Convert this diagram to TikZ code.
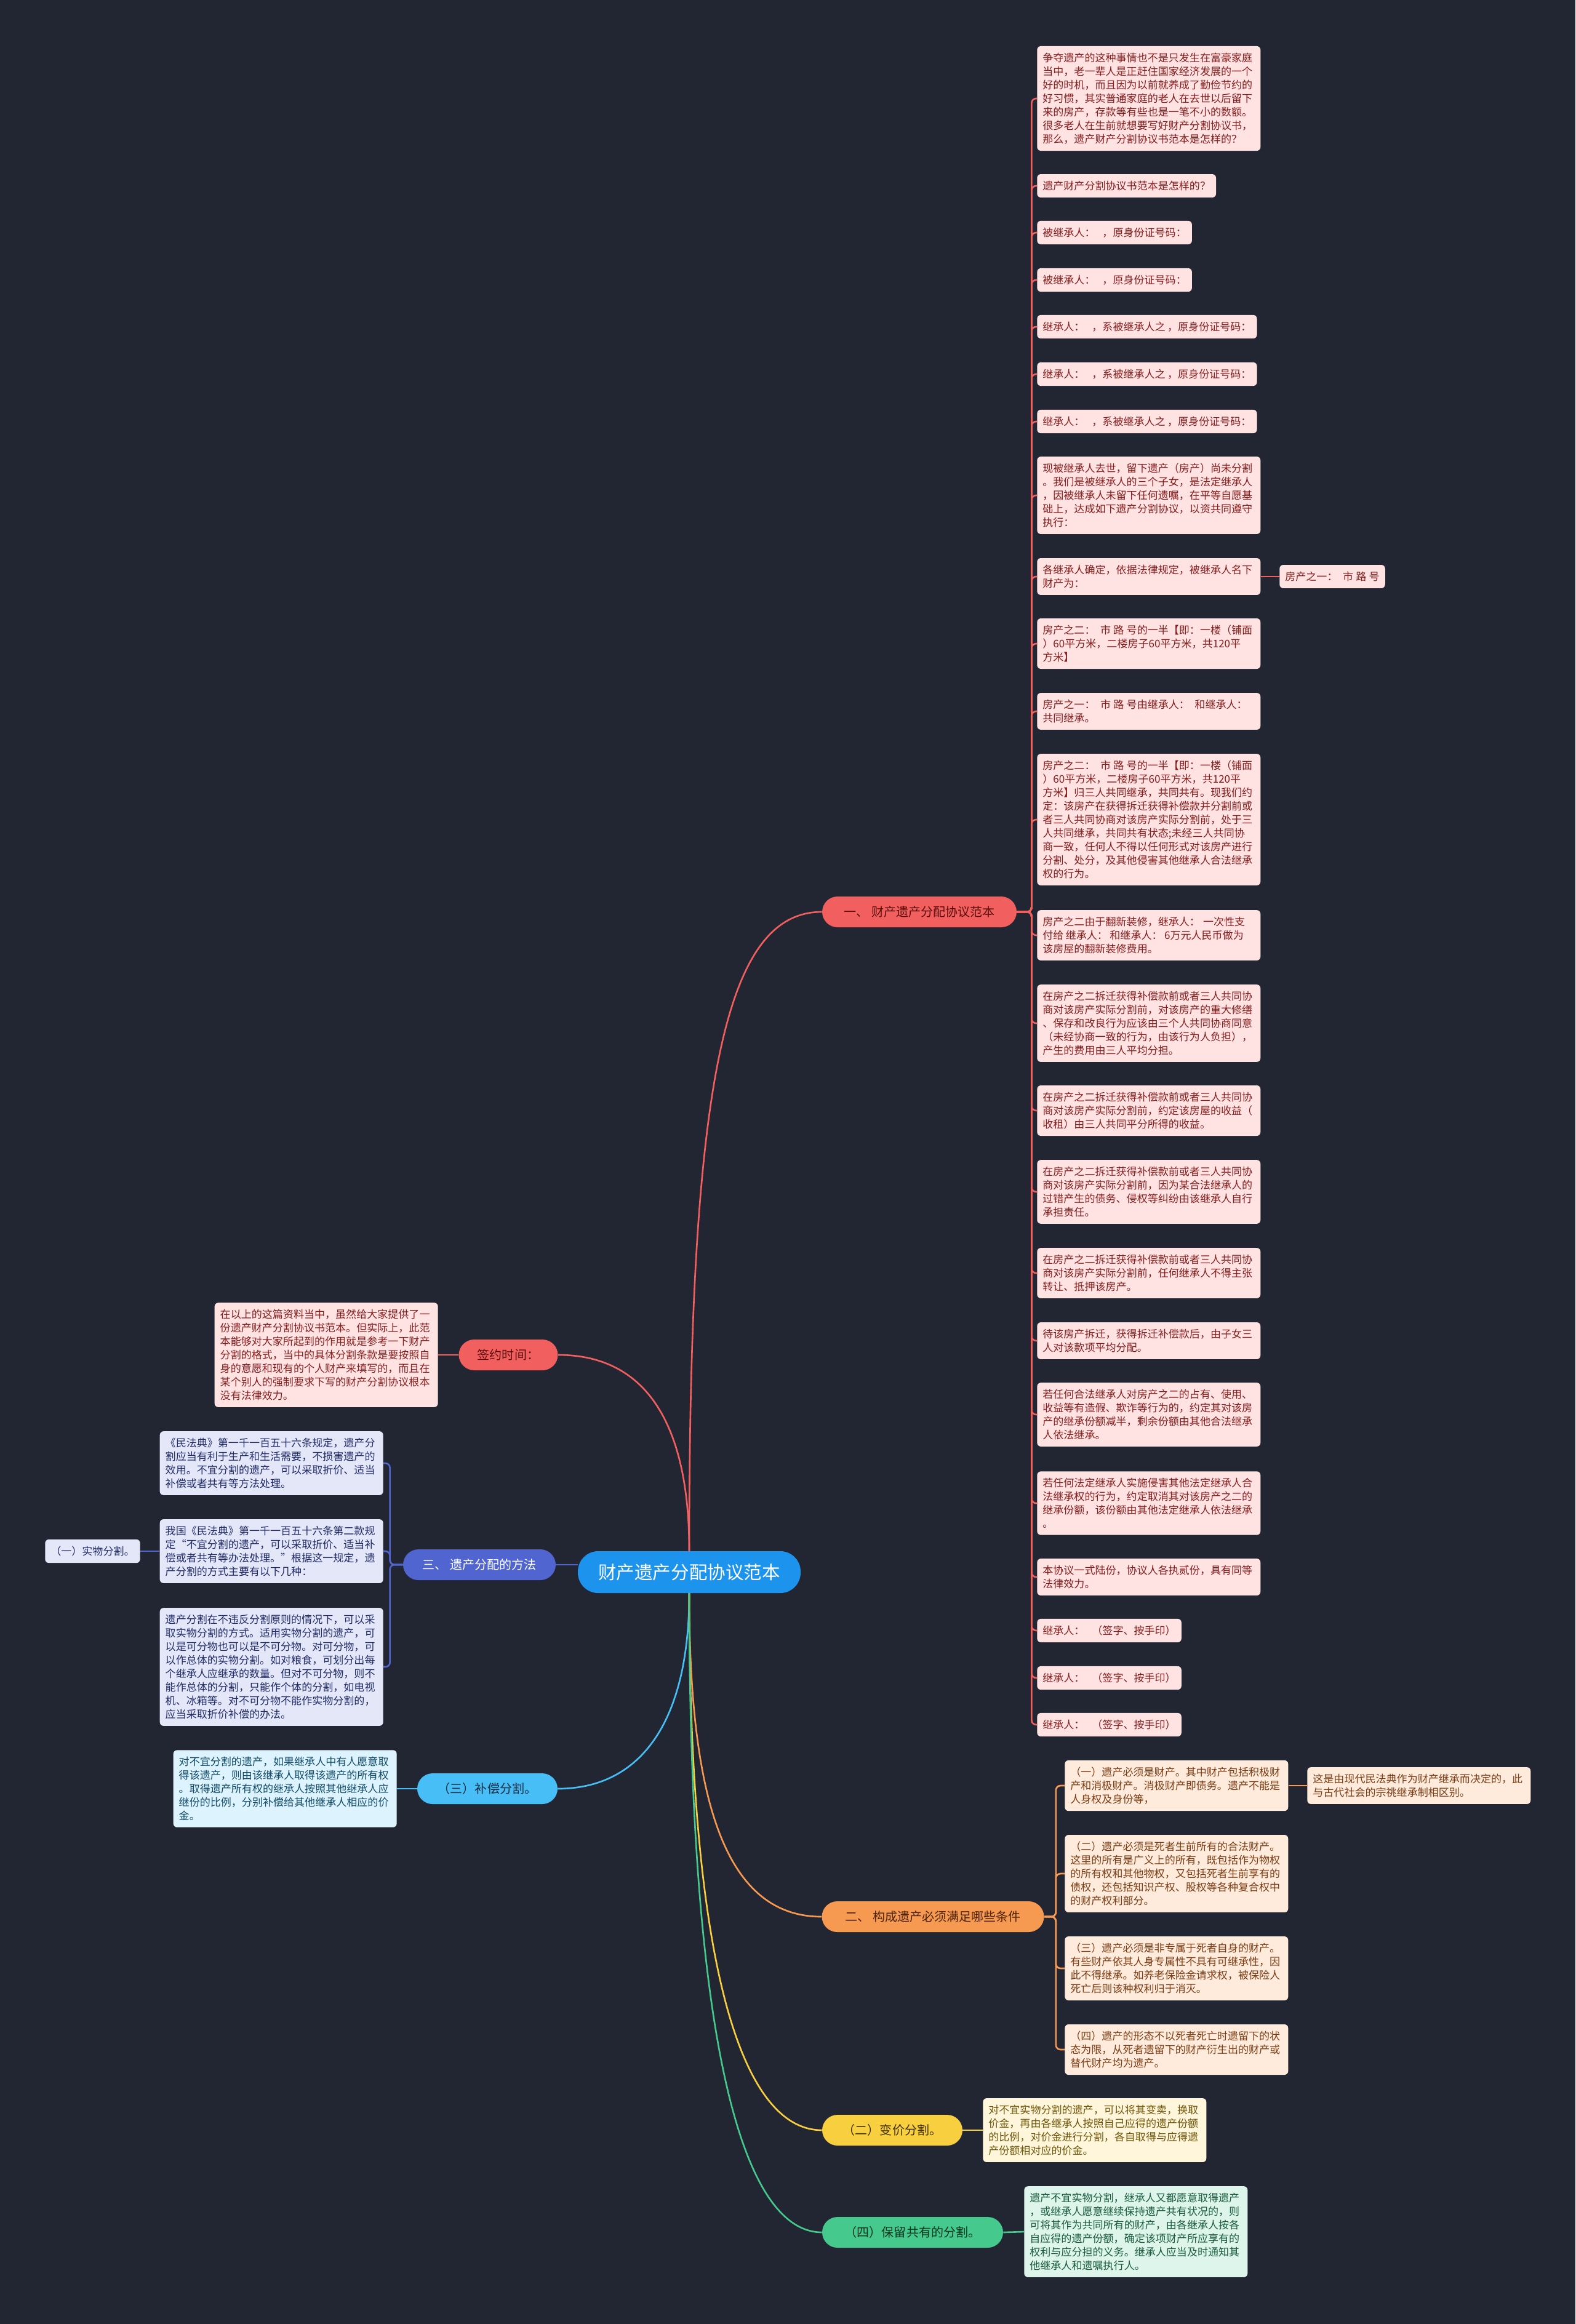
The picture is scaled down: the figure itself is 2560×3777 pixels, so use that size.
\documentclass[tikz,border=0pt]{standalone}
\usepackage{fontspec}
\setmainfont{Noto Sans CJK SC}
\usepackage{xcolor}
\usepackage{tikz}
\usetikzlibrary{positioning}

\definecolor{bgc}{HTML}{222532}
\definecolor{redc}{HTML}{F1605E}
\definecolor{redleafc}{HTML}{FFE3E3}
\definecolor{redtext}{HTML}{861C1C}
\definecolor{redbtext}{HTML}{5A0E0E}
\definecolor{rootc}{HTML}{1C94EE}
\definecolor{indigoc}{HTML}{5065CF}
\definecolor{indigoleafc}{HTML}{E3E7F8}
\definecolor{indigotext}{HTML}{1F2A66}
\definecolor{bluec}{HTML}{47BEF6}
\definecolor{blueleafc}{HTML}{DDF3FD}
\definecolor{bluetext}{HTML}{104A68}
\definecolor{bluebtext}{HTML}{0E2C44}
\definecolor{orangec}{HTML}{F69A52}
\definecolor{orangeleafc}{HTML}{FFEBDC}
\definecolor{orangetext}{HTML}{7A3B12}
\definecolor{orangebtext}{HTML}{4A2108}
\definecolor{yellowc}{HTML}{F8CF3E}
\definecolor{yellowleafc}{HTML}{FFF6DC}
\definecolor{yellowtext}{HTML}{6E5506}
\definecolor{yellowbtext}{HTML}{3E3100}
\definecolor{greenc}{HTML}{45C98C}
\definecolor{greenleafc}{HTML}{DDF5EB}
\definecolor{greentext}{HTML}{185A3B}
\definecolor{greenbtext}{HTML}{0C3521}

\begin{document}
\begin{tikzpicture}[
  x=0.02cm, y=-0.02cm,
  rootbox/.style   = {fill=rootc, text=white, rounded corners=0.66cm,
                      minimum width=7.24cm, minimum height=1.36cm, inner sep=0pt,
                      font=\fontsize{16.8pt}{19pt}\selectfont},
  branchbox/.style = {rounded corners=0.5cm, minimum height=1cm, inner sep=0pt,
                      font=\fontsize{11.4pt}{13pt}\selectfont},
  leafbox/.style   = {rounded corners=0.12cm, inner xsep=0.18cm, inner ysep=0.22cm,
                      align=left, font=\fontsize{9.7pt}{12.5pt}\selectfont},
  wide/.style      = {text width=6.9cm},
  redleaf/.style   = {leafbox, fill=redleafc, text=redtext},
  indigoleaf/.style= {leafbox, fill=indigoleafc, text=indigotext},
  blueleaf/.style  = {leafbox, fill=blueleafc, text=bluetext},
  orangeleaf/.style= {leafbox, fill=orangeleafc, text=orangetext},
  yellowleaf/.style= {leafbox, fill=yellowleafc, text=yellowtext},
  greenleaf/.style = {leafbox, fill=greenleafc, text=greentext},
  conn/.style      = {line width=1.5pt},
  elbow/.style     = {conn, rounded corners=0.15cm},
]
\fill[bgc] (0,0) rectangle (2560,3777);
\useasboundingbox (0,0) rectangle (2560,3777);

% centre and main branches
\node[rootbox] (root) at (1120,2555) {财产遗产分配协议范本};
\node[branchbox, fill=redc, text=redbtext, minimum width=6.32cm] (sample) at (1494,1482) {一、 财产遗产分配协议范本};
\node[branchbox, fill=orangec, text=orangebtext, minimum width=7.22cm] (cond) at (1516,3115) {二、 构成遗产必须满足哪些条件};
\node[branchbox, fill=indigoc, text=white, minimum width=4.96cm] (method) at (779,2543) {三、 遗产分配的方法};
\node[branchbox, fill=redc, text=redbtext, minimum width=3.22cm] (signing) at (826,2202) {签约时间：};
\node[branchbox, fill=bluec, text=bluebtext, minimum width=4.56cm] (comp) at (792,2907) {（三）补偿分割。};
\node[branchbox, fill=yellowc, text=yellowbtext, minimum width=4.56cm] (sale) at (1450,3462) {（二）变价分割。};
\node[branchbox, fill=greenc, text=greenbtext, minimum width=5.88cm] (joint) at (1483,3628) {（四）保留共有的分割。};

% agreement text
\node[redleaf, wide, anchor=west] (s1) at (1685,160) {争夺遗产的这种事情也不是只发生在富豪家庭\\当中，老一辈人是正赶住国家经济发展的一个\\好的时机，而且因为以前就养成了勤俭节约的\\好习惯，其实普通家庭的老人在去世以后留下\\来的房产，存款等有些也是一笔不小的数额。\\很多老人在生前就想要写好财产分割协议书，\\那么，遗产财产分割协议书范本是怎样的？};
\node[redleaf, anchor=west] (s2) at (1685,302) {遗产财产分割协议书范本是怎样的？};
\node[redleaf, anchor=west] (s3) at (1685,378) {被继承人：\kern.7em ，原身份证号码：};
\node[redleaf, anchor=west] (s4) at (1685,455) {被继承人：\kern.7em ，原身份证号码：};
\node[redleaf, anchor=west] (s5) at (1685,531) {继承人：\kern.7em ，系被继承人之\kern.2em ，原身份证号码：};
\node[redleaf, anchor=west] (s6) at (1685,608) {继承人：\kern.7em ，系被继承人之\kern.2em ，原身份证号码：};
\node[redleaf, anchor=west] (s7) at (1685,685) {继承人：\kern.7em ，系被继承人之\kern.2em ，原身份证号码：};
\node[redleaf, wide, anchor=west] (s8) at (1685,805) {现被继承人去世，留下遗产（房产）尚未分割\\。我们是被继承人的三个子女，是法定继承人\\，因被继承人未留下任何遗嘱，在平等自愿基\\础上，达成如下遗产分割协议，以资共同遵守\\执行：};
\node[redleaf, wide, anchor=west] (s9) at (1685,937) {各继承人确定，依据法律规定，被继承人名下\\财产为：};
\node[redleaf, anchor=west] (house1) at (2079,937) {房产之一：\kern.5em 市\kern.25em 路\kern.25em 号};
\node[redleaf, wide, anchor=west] (s10) at (1685,1046) {房产之二：\kern.5em 市\kern.25em 路\kern.25em 号的一半【即：一楼（铺面\\）60平方米，二楼房子60平方米，共120平\\方米】};
\node[redleaf, wide, anchor=west] (s11) at (1685,1156) {房产之一：\kern.5em 市\kern.25em 路\kern.25em 号由继承人：\kern.5em 和继承人：\\共同继承。};
\node[redleaf, wide, anchor=west] (s12) at (1685,1332) {房产之二：\kern.5em 市\kern.25em 路\kern.25em 号的一半【即：一楼（铺面\\）60平方米，二楼房子60平方米，共120平\\方米】归三人共同继承，共同共有。现我们约\\定：该房产在获得拆迁获得补偿款并分割前或\\者三人共同协商对该房产实际分割前，处于三\\人共同继承，共同共有状态;未经三人共同协\\商一致，任何人不得以任何形式对该房产进行\\分割、处分，及其他侵害其他继承人合法继承\\权的行为。};
\node[redleaf, wide, anchor=west] (s13) at (1685,1520) {房产之二由于翻新装修，继承人：\kern.3em 一次性支\\付给\kern.2em 继承人：\kern.2em 和继承人：\kern.2em 6万元人民币做为\\该房屋的翻新装修费用。};
\node[redleaf, wide, anchor=west] (s14) at (1685,1663) {在房产之二拆迁获得补偿款前或者三人共同协\\商对该房产实际分割前，对该房产的重大修缮\\、保存和改良行为应该由三个人共同协商同意\\（未经协商一致的行为，由该行为人负担），\\产生的费用由三人平均分担。};
\node[redleaf, wide, anchor=west] (s15) at (1685,1805) {在房产之二拆迁获得补偿款前或者三人共同协\\商对该房产实际分割前，约定该房屋的收益（\\收租）由三人共同平分所得的收益。};
\node[redleaf, wide, anchor=west] (s16) at (1685,1937) {在房产之二拆迁获得补偿款前或者三人共同协\\商对该房产实际分割前，因为某合法继承人的\\过错产生的债务、侵权等纠纷由该继承人自行\\承担责任。};
\node[redleaf, wide, anchor=west] (s17) at (1685,2069) {在房产之二拆迁获得补偿款前或者三人共同协\\商对该房产实际分割前，任何继承人不得主张\\转让、抵押该房产。};
\node[redleaf, wide, anchor=west] (s18) at (1685,2179) {待该房产拆迁，获得拆迁补偿款后，由子女三\\人对该款项平均分配。};
\node[redleaf, wide, anchor=west] (s19) at (1685,2299) {若任何合法继承人对房产之二的占有、使用、\\收益等有造假、欺诈等行为的，约定其对该房\\产的继承份额减半，剩余份额由其他合法继承\\人依法继承。};
\node[redleaf, wide, anchor=west] (s20) at (1685,2443) {若任何法定继承人实施侵害其他法定继承人合\\法继承权的行为，约定取消其对该房产之二的\\继承份额，该份额由其他法定继承人依法继承\\。};
\node[redleaf, wide, anchor=west] (s21) at (1685,2563) {本协议一式陆份，协议人各执贰份，具有同等\\法律效力。};
\node[redleaf, anchor=west] (s22) at (1685,2650) {继承人：\kern.7em （签字、按手印）};
\node[redleaf, anchor=west] (s23) at (1685,2727) {继承人：\kern.7em （签字、按手印）};
\node[redleaf, anchor=west] (s24) at (1685,2803) {继承人：\kern.7em （签字、按手印）};

% conditions of an estate
\node[orangeleaf, wide, anchor=west] (c1) at (1730,2902) {（一）遗产必须是财产。其中财产包括积极财\\产和消极财产。消极财产即债务。遗产不能是\\人身权及身份等，};
\node[orangeleaf, wide, anchor=west] (cnote) at (2124,2902) {这是由现代民法典作为财产继承而决定的，此\\与古代社会的宗祧继承制相区别。};
\node[orangeleaf, wide, anchor=west] (c2) at (1730,3045) {（二）遗产必须是死者生前所有的合法财产。\\这里的所有是广义上的所有，既包括作为物权\\的所有权和其他物权，又包括死者生前享有的\\债权，还包括知识产权、股权等各种复合权中\\的财产权利部分。};
\node[orangeleaf, wide, anchor=west] (c3) at (1730,3199) {（三）遗产必须是非专属于死者自身的财产。\\有些财产依其人身专属性不具有可继承性，因\\此不得继承。如养老保险金请求权，被保险人\\死亡后则该种权利归于消灭。};
\node[orangeleaf, wide, anchor=west] (c4) at (1730,3331) {（四）遗产的形态不以死者死亡时遗留下的状\\态为限，从死者遗留下的财产衍生出的财产或\\替代财产均为遗产。};

% sale and joint ownership
\node[yellowleaf, wide, anchor=west] (sale1) at (1597,3462) {对不宜实物分割的遗产，可以将其变卖，换取\\价金，再由各继承人按照自己应得的遗产份额\\的比例，对价金进行分割，各自取得与应得遗\\产份额相对应的价金。};
\node[greenleaf, wide, anchor=west] (joint1) at (1664,3627) {遗产不宜实物分割，继承人又都愿意取得遗产\\，或继承人愿意继续保持遗产共有状况的，则\\可将其作为共同所有的财产，由各继承人按各\\自应得的遗产份额，确定该项财产所应享有的\\权利与应分担的义务。继承人应当及时通知其\\他继承人和遗嘱执行人。};

% left side
\node[redleaf, wide, anchor=east] (sign1) at (712,2202) {在以上的这篇资料当中，虽然给大家提供了一\\份遗产财产分割协议书范本。但实际上，此范\\本能够对大家所起到的作用就是参考一下财产\\分割的格式，当中的具体分割条款是要按照自\\身的意愿和现有的个人财产来填写的，而且在\\某个别人的强制要求下写的财产分割协议根本\\没有法律效力。};
\node[indigoleaf, wide, anchor=east] (m1) at (623,2378) {《民法典》第一千一百五十六条规定，遗产分\\割应当有利于生产和生活需要，不损害遗产的\\效用。不宜分割的遗产，可以采取折价、适当\\补偿或者共有等方法处理。};
\node[indigoleaf, wide, anchor=east] (m2) at (623,2521) {我国《民法典》第一千一百五十六条第二款规\\定“不宜分割的遗产，可以采取折价、适当补\\偿或者共有等办法处理。”根据这一规定，遗\\产分割的方式主要有以下几种：};
\node[indigoleaf, wide, anchor=east] (m3) at (623,2709) {遗产分割在不违反分割原则的情况下，可以采\\取实物分割的方式。适用实物分割的遗产，可\\以是可分物也可以是不可分物。对可分物，可\\以作总体的实物分割。如对粮食，可划分出每\\个继承人应继承的数量。但对不可分物，则不\\能作总体的分割，只能作个体的分割，如电视\\机、冰箱等。对不可分物不能作实物分割的，\\应当采取折价补偿的办法。};
\node[indigoleaf, anchor=east] (physical) at (228,2521) {（一）实物分割。};
\node[blueleaf, wide, anchor=east] (comp1) at (645,2907) {对不宜分割的遗产，如果继承人中有人愿意取\\得该遗产，则由该继承人取得该遗产的所有权\\。取得遗产所有权的继承人按照其他继承人应\\继份的比例，分别补偿给其他继承人相应的价\\金。};

% connectors from the centre
\draw[conn, redc] (root.north) .. controls (1120,1750) and (1180,1482) .. (sample.west);
\draw[conn, redc] (root.north) .. controls (1120,2330) and (1060,2202) .. (signing.east);
\draw[conn, indigoc] (method.east) -- (method.east -| root.west);
\draw[conn, bluec] (root.south) .. controls (1120,2800) and (1040,2907) .. (comp.east);
\draw[conn, orangec] (root.south) .. controls (1120,2930) and (1180,3115) .. (cond.west);
\draw[conn, yellowc] (root.south) .. controls (1120,3250) and (1220,3462) .. (sale.west);
\draw[conn, greenc] (root.south) .. controls (1120,3380) and (1220,3628) .. (joint.west);

% connectors to the leaves
\foreach \i in {1,...,24}
  \draw[elbow, redc] (sample.east) -- ++(24,0) |- (s\i.west);
\draw[conn, redc] (s9.east) -- (house1.west);
\foreach \i in {1,...,4}
  \draw[elbow, orangec] (cond.east) -- ++(19,0) |- (c\i.west);
\draw[conn, orangec] (c1.east) -- (cnote.west);
\foreach \i in {1,2,3}
  \draw[elbow, indigoc] (method.west) -- ++(-21,0) |- (m\i.east);
\draw[conn, indigoc] (m2.west) -- (physical.east);
\draw[conn, redc] (signing.west) -- (sign1.east);
\draw[conn, bluec] (comp.west) -- (comp1.east);
\draw[conn, yellowc] (sale.east) -- (sale1.west);
\draw[conn, greenc] (joint.east) -- (joint1.west);
\end{tikzpicture}
\end{document}
